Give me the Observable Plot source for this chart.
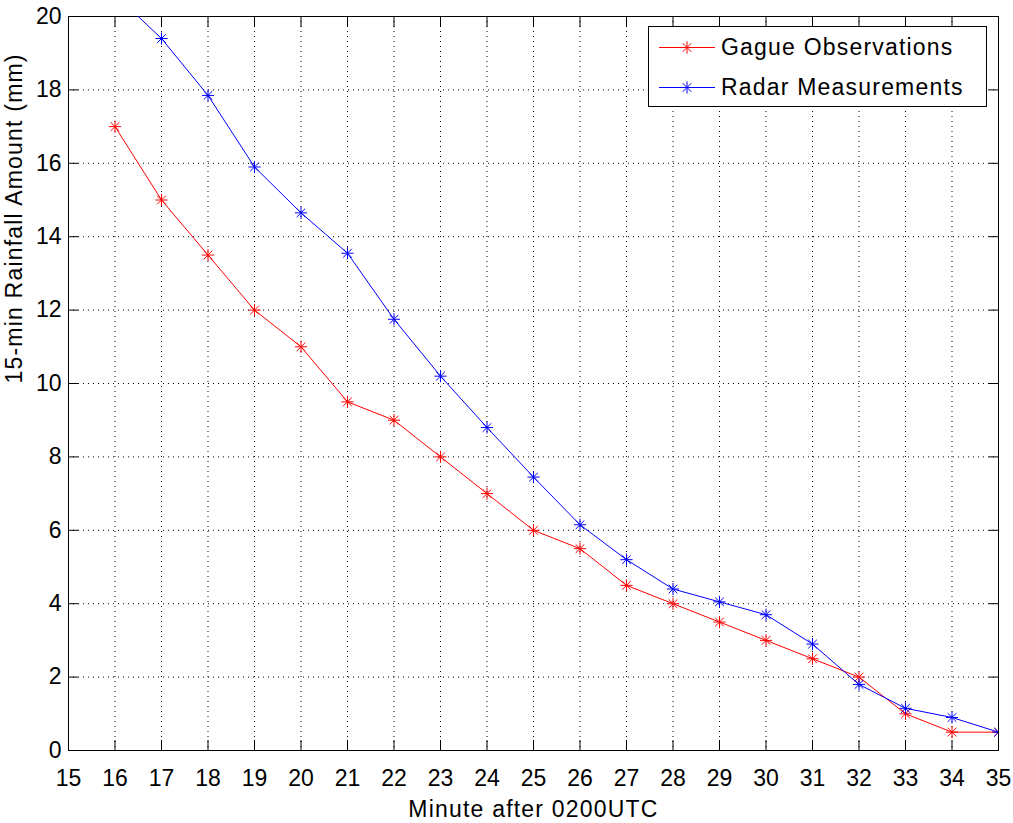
<!DOCTYPE html>
<html>
<head>
<meta charset="utf-8">
<script src="https://cdn.jsdelivr.net/npm/d3@7"></script>
<script src="https://cdn.jsdelivr.net/npm/@observablehq/plot@0.6"></script>
<style>
  html, body { margin: 0; padding: 0; background: #fff; }
  #wrap { position: relative; width: 1013px; height: 823px; font-family: "Liberation Sans", Arial, Helvetica, sans-serif; }
  #legend { position: absolute; left: 648px; top: 26px; width: 339px; height: 81px; background: #fff; border: 1px solid #000; box-sizing: border-box; }
  .row { position: absolute; left: 0; height: 40px; display: flex; align-items: center; }
  .row svg { margin-left: 10px; }
  .row span { margin-left: 6px; font-size: 23px; letter-spacing: 1.2px; color: #000; white-space: nowrap; }
</style>
</head>
<body>
<div id="wrap"></div>
<script>
const minutes = [16, 17, 18, 19, 20, 21, 22, 23, 24, 25, 26, 27, 28, 29, 30, 31, 32, 33, 34, 35];
const gauge   = [17, 15, 13.5, 12, 11, 9.5, 9, 8, 7, 6, 5.5, 4.5, 4, 3.5, 3, 2.5, 2, 1, 0.5, 0.5];
const radar   = [20.6, 19.4, 17.85, 15.9, 14.65, 13.55, 11.75, 10.2, 8.8, 7.45, 6.15, 5.2, 4.4, 4.05, 3.7, 2.9, 1.8, 1.15, 0.9, 0.5];
const seriesNames = ["Gague Observations", "Radar Measurements"];
const seriesColors = ["#ff0000", "#0000ff"];
const xTicks = d3.range(15, 36, 1);
const yTicks = d3.range(0, 21, 2);
const xLabel = "Minute after 0200UTC";
const yLabel = "15-min Rainfall Amount (mm)";

const rows = [];
minutes.forEach((m, i) => {
  rows.push({minute: m, value: gauge[i], series: seriesNames[0]});
  rows.push({minute: m, value: radar[i], series: seriesNames[1]});
});

const marks = [
  Plot.gridX(xTicks, {stroke: "black", strokeOpacity: 1, strokeDasharray: "1,4"}),
  Plot.gridY(yTicks, {stroke: "black", strokeOpacity: 1, strokeDasharray: "1,4"}),
  Plot.axisX(xTicks, {anchor: "bottom", tickSize: -10, tickPadding: 29, label: null, tickFormat: d => String(d)}),
  Plot.axisX(xTicks, {anchor: "top", tickSize: -10, label: null, tickFormat: () => ""}),
  Plot.axisY(yTicks, {anchor: "left", tickSize: -10, tickPadding: 17, label: null, tickFormat: d => String(d)}),
  Plot.axisY(yTicks, {anchor: "right", tickSize: -10, label: null, tickFormat: () => ""}),
  Plot.frame({stroke: "black"})
];
seriesNames.forEach((name, k) => {
  const data = rows.filter(r => r.series === name);
  marks.push(Plot.line(data, {x: "minute", y: "value", stroke: seriesColors[k], strokeWidth: 1, clip: true}));
  marks.push(Plot.dot(data, {x: "minute", y: "value", symbol: "plus", r: 4, stroke: seriesColors[k], strokeWidth: 1, clip: true}));
  marks.push(Plot.dot(data, {x: "minute", y: "value", symbol: "times", r: 4, stroke: seriesColors[k], strokeWidth: 1, clip: true}));
});
marks.push(Plot.text([xLabel], {text: d => d, frameAnchor: "bottom", dy: 66, lineAnchor: "bottom", fontSize: 23, style: "letter-spacing:1.2px"}));
marks.push(Plot.text([yLabel], {text: d => d, frameAnchor: "left", dx: -47, rotate: -90, lineAnchor: "bottom", fontSize: 23}));

const chart = Plot.plot({
  width: 1013,
  height: 823,
  marginTop: 16,
  marginRight: 15,
  marginBottom: 73,
  marginLeft: 68,
  x: {domain: [15, 35]},
  y: {domain: [0, 20]},
  style: {fontSize: "23px", fontFamily: "'Liberation Sans', Arial, Helvetica, sans-serif", color: "black", background: "white"},
  marks
});
const wrap = document.getElementById("wrap");
wrap.appendChild(chart);
chart.querySelectorAll("text").forEach(t => {
  if (t.textContent.length > 3) t.setAttribute("letter-spacing", "1.2");
});

const legend = document.createElement("div");
legend.id = "legend";
seriesNames.forEach((name, k) => {
  const row = document.createElement("div");
  row.className = "row";
  row.style.top = (k === 0 ? 0 : 40) + "px";
  const svg = d3.create("svg").attr("width", 56).attr("height", 20);
  const c = seriesColors[k];
  svg.append("line").attr("x1", 0).attr("x2", 56).attr("y1", 10.5).attr("y2", 10.5).attr("stroke", c);
  svg.append("path").attr("d", d3.symbol(d3.symbolPlus, Math.PI * 16)()).attr("transform", "translate(28,10.5)").attr("stroke", c).attr("fill", "none");
  svg.append("path").attr("d", d3.symbol(d3.symbolTimes, Math.PI * 16)()).attr("transform", "translate(28,10.5)").attr("stroke", c).attr("fill", "none");
  row.appendChild(svg.node());
  const span = document.createElement("span");
  span.textContent = name;
  row.appendChild(span);
  legend.appendChild(row);
});
wrap.appendChild(legend);
</script>
</body>
</html>
